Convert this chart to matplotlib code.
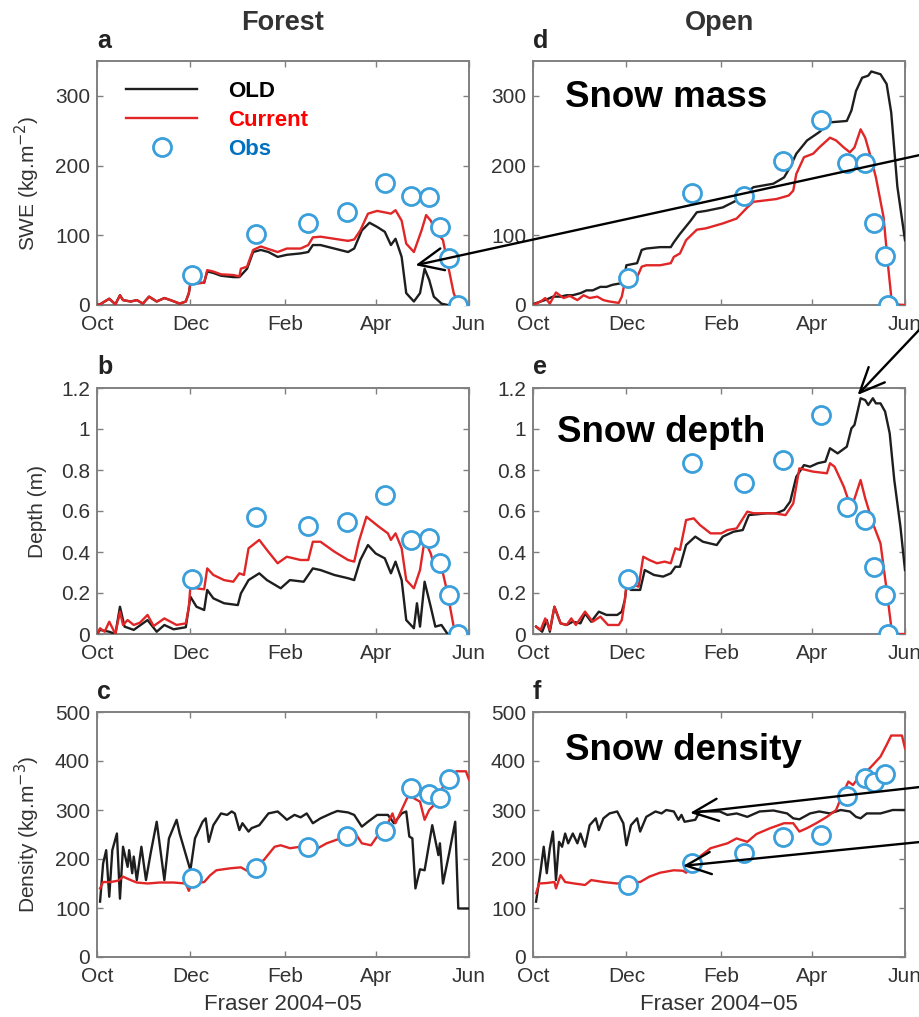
import matplotlib
matplotlib.use("Agg")
import matplotlib.pyplot as plt
from matplotlib.text import Annotation

plt.rcParams["font.family"] = ["Liberation Sans", "DejaVu Sans"]

# x axis: days since 1 Oct 2004
month_ticks = [0, 61, 123, 182, 243]
month_labels = ["Oct", "Dec", "Feb", "Apr", "Jun"]

forest_obs_day = [62, 104, 138, 163, 188, 205, 217, 224, 230, 236]
open_obs_day = [62, 104, 138, 163, 188, 205, 217, 223, 230, 232]

# a: forest SWE
a_old_day = [0, 2, 5, 8, 12, 15, 17, 22, 26, 30, 34, 39, 44, 48, 54, 58, 60, 61, 64, 70,
             72, 76, 81, 89, 93, 98, 102, 107, 112, 118, 124, 133, 138, 141, 146, 155, 164,
             168, 173, 178, 183, 188, 192, 195, 199, 202, 207, 211, 214, 217, 220, 225, 229, 243]
a_old = [0, 1, 5, 9, 1, 14, 7, 5, 7, 2, 12, 5, 10, 7, 2, 5, 17, 31, 31, 32,
         48, 46, 42, 40, 40, 52, 76, 79, 76, 69, 72, 74, 76, 86, 86, 81, 76,
         81, 107, 118, 112, 105, 86, 95, 69, 17, 5, 17, 52, 36, 12, 2, 0, 0]
a_cur_day = [0, 2, 5, 8, 12, 15, 17, 22, 26, 30, 34, 39, 44, 48, 54, 58, 60, 61, 64, 70,
             72, 76, 81, 89, 93, 94, 98, 102, 107, 111, 118, 124, 133, 138, 141, 146, 155,
             164, 168, 172, 177, 183, 190, 192, 195, 199, 202, 207, 212, 215, 218, 221, 226,
             229, 233, 236, 243]
a_cur = [0, 1, 5, 9, 1, 14, 7, 5, 7, 2, 12, 5, 10, 7, 2, 5, 17, 31, 31, 32,
         50, 48, 44, 43, 41, 52, 55, 79, 84, 81, 76, 81, 81, 86, 97, 98, 95,
         92, 94, 107, 131, 135, 132, 131, 136, 121, 88, 76, 107, 129, 121, 107, 93,
         60, 17, 1, 0]
a_obs = [43, 102, 118, 134, 175, 157, 155, 112, 68, 0]

# b: forest depth
b_old_day = [0, 2, 8, 12, 15, 18, 24, 33, 39, 44, 50, 58, 61, 65, 70, 72, 76, 83, 92, 94,
             99, 106, 111, 120, 126, 135, 141, 146, 155, 164, 168, 172, 177, 182, 188, 192,
             195, 199, 202, 207, 209, 211, 214, 218, 221, 225, 229, 243]
b_old = [0, .02, .011, 0, .133, .036, .02, .068, .011, .044, .023, .033, .182, .133, .117,
         .215, .174, .15, .141, .198, .263, .296, .263, .223, .263, .255, .32, .312, .288,
         .272, .263, .361, .434, .393, .369, .296, .353, .263, .068, .028, .15, .036, .255,
         .133, .036, .044, 0, 0]
b_cur_day = [0, 2, 5, 8, 12, 15, 17, 20, 24, 28, 33, 37, 44, 48, 52, 58, 60, 61, 65, 70,
             72, 76, 83, 89, 93, 96, 99, 106, 111, 118, 124, 133, 138, 141, 146, 155, 164,
             168, 171, 176, 180, 184, 190, 192, 195, 199, 202, 207, 211, 214, 218, 221, 226,
             229, 233, 236, 243]
b_cur = [0, .028, .011, .06, 0, .109, .044, .068, .044, .055, .093, .039, .076, .06, .044,
         .052, .133, .231, .223, .218, .32, .288, .263, .255, .296, .288, .418, .459, .41,
         .345, .377, .361, .361, .45, .45, .402, .361, .353, .45, .572, .548, .524, .491,
         .459, .491, .418, .263, .223, .312, .459, .393, .312, .296, .198, .036, 0, 0]
b_obs = [.268, .569, .528, .548, .678, .459, .467, .348, .19, 0]

# c: forest density
c_old_day = [2, 4, 6, 8, 10, 13, 15, 17, 20, 21, 23, 24, 26, 29, 32, 35, 39, 44, 47, 52,
             54, 61, 64, 69, 71, 73, 76, 81, 85, 88, 90, 93, 95, 99, 101, 106, 112, 118,
             122, 124, 129, 133, 137, 141, 146, 153, 157, 164, 168, 173, 177, 183, 190, 194,
             199, 202, 204, 206, 208, 211, 214, 219, 223, 224, 226, 230, 234, 236, 243]
c_old = [113, 191, 218, 123, 218, 252, 119, 225, 184, 218, 171, 205, 157, 225, 157, 211,
         276, 157, 242, 280, 252, 177, 242, 276, 283, 235, 269, 293, 290, 297, 293, 259,
         273, 256, 263, 269, 293, 297, 286, 280, 290, 285, 293, 273, 283, 293, 298, 295,
         290, 266, 276, 290, 290, 273, 293, 297, 246, 242, 140, 179, 177, 269, 208, 232,
         150, 211, 276, 99, 99]
c_cur_day = [2, 4, 9, 14, 17, 22, 26, 33, 41, 50, 58, 60, 62, 70, 74, 78, 87, 94, 98, 102,
             109, 116, 120, 126, 133, 142, 150, 159, 168, 173, 179, 183, 188, 191, 193, 195,
             200, 204, 207, 211, 214, 217, 220, 225, 230, 235, 241, 243]
c_cur = [140, 153, 153, 156, 164, 157, 152, 150, 152, 152, 150, 135, 150, 153, 167, 177,
         181, 183, 176, 184, 198, 225, 228, 222, 225, 218, 232, 242, 256, 232, 228, 246,
         256, 280, 293, 273, 307, 334, 324, 317, 280, 300, 310, 341, 372, 379, 379, 362]
c_obs = [162, 181, 224, 247, 258, 344, 332, 324, 363]

# d: open SWE
d_old_day = [1, 5, 9, 13, 18, 22, 26, 31, 35, 39, 44, 48, 52, 57, 60, 61, 68, 71, 74, 83,
             90, 92, 96, 103, 107, 113, 124, 133, 140, 144, 157, 164, 168, 172, 179, 187,
             194, 205, 208, 211, 215, 219, 221, 227, 231, 234, 238, 243]
d_old = [2, 5, 8, 12, 12, 14, 14, 17, 21, 21, 26, 26, 29, 31, 45, 57, 60, 79, 81, 83,
         83, 90, 102, 121, 133, 135, 140, 150, 162, 169, 174, 183, 198, 217, 236, 248,
         262, 264, 279, 307, 326, 329, 335, 331, 317, 276, 170, 93]
d_cur_day = [1, 5, 8, 11, 15, 20, 24, 29, 33, 37, 42, 46, 50, 56, 58, 60, 63, 68, 71, 74,
             83, 90, 92, 96, 100, 107, 113, 124, 133, 140, 144, 159, 167, 170, 172, 177,
             183, 187, 194, 198, 203, 207, 210, 214, 217, 220, 224, 229, 232, 234, 236, 243]
d_cur = [1, 5, 10, 2, 18, 10, 13, 7, 14, 10, 12, 7, 5, 3, 12, 33, 40, 40, 55, 57,
         57, 60, 69, 74, 93, 108, 110, 117, 124, 140, 148, 152, 157, 164, 188, 212,
         217, 226, 240, 236, 226, 219, 226, 252, 240, 217, 183, 126, 55, 12, 1, 0]
d_obs = [39, 161, 156, 206, 265, 204, 204, 118, 70, 0]

# e: open depth
e_old_day = [2, 6, 9, 11, 14, 18, 22, 26, 31, 34, 38, 43, 48, 55, 58, 60, 61, 64, 70, 73,
             79, 85, 90, 93, 96, 100, 106, 111, 120, 124, 131, 137, 141, 153, 159, 164, 168,
             172, 177, 181, 186, 191, 194, 199, 205, 208, 210, 214, 217, 219, 222, 224, 227,
             230, 233, 236, 240, 243]
e_old = [.036, .011, .068, .011, .133, .052, .044, .06, .052, .1, .06, .109, .093, .093,
         .109, .166, .231, .215, .215, .312, .288, .28, .296, .328, .328, .434, .475, .45,
         .434, .475, .499, .507, .58, .589, .589, .605, .646, .767, .824, .816, .833, .841,
         .906, .881, .914, 1.003, 1.02, 1.15, 1.141, 1.117, 1.15, 1.125, 1.125, 1.085,
         .979, .751, .524, .312]
e_cur_day = [2, 5, 8, 11, 14, 18, 22, 25, 28, 34, 39, 44, 49, 56, 58, 60, 61, 66, 69, 72,
             76, 81, 86, 90, 93, 96, 100, 105, 109, 116, 123, 127, 133, 140, 144, 157, 165,
             170, 174, 183, 192, 194, 197, 203, 206, 209, 214, 217, 222, 227, 231, 234, 236,
             243]
e_cur = [.036, .02, .076, .02, .133, .052, .044, .076, .044, .109, .06, .085, .044, .044,
         .068, .166, .231, .239, .231, .377, .361, .345, .353, .345, .418, .41, .556, .564,
         .532, .491, .491, .507, .515, .597, .589, .589, .58, .637, .808, .792, .784, .833,
         .816, .719, .654, .637, .751, .662, .54, .442, .215, .036, 0, 0]
e_obs = [.268, .836, .738, .849, 1.068, .618, .556, .328, .19, 0]

# f: open density
f_old_day = [2, 5, 7, 9, 11, 13, 15, 17, 19, 21, 23, 26, 29, 31, 34, 37, 41, 43, 46, 50,
             55, 59, 61, 64, 68, 70, 74, 80, 84, 87, 92, 95, 97, 99, 106, 109, 122, 127,
             133, 140, 148, 157, 166, 170, 174, 181, 187, 194, 201, 207, 211, 214, 218, 227,
             235, 243]
f_old = [113, 177, 225, 171, 222, 256, 157, 235, 225, 252, 232, 252, 232, 252, 225, 269,
         283, 259, 283, 293, 297, 273, 228, 269, 283, 256, 286, 297, 293, 300, 297, 280,
         290, 276, 280, 297, 297, 290, 293, 286, 297, 299, 293, 283, 281, 293, 297, 293,
         300, 297, 286, 283, 293, 293, 300, 300]
f_cur_day = [2, 4, 9, 14, 15, 18, 21, 27, 34, 38, 46, 55, 63, 70, 76, 83, 92, 98, 100, 109,
             116, 127, 133, 140, 146, 155, 164, 170, 174, 179, 185, 192, 198, 202, 206, 209,
             214, 218, 222, 227, 231, 234, 241, 243]
f_cur = [130, 150, 151, 153, 140, 167, 153, 150, 147, 157, 153, 150, 153, 153, 164, 172,
         177, 176, 172, 205, 222, 232, 242, 235, 251, 263, 273, 273, 256, 263, 273, 286,
         300, 331, 358, 351, 372, 379, 392, 409, 433, 452, 452, 426]
f_obs = [147, 192, 213, 244, 249, 329, 365, 358, 374]

swe_ticks = [0, 100, 200, 300]
depth_ticks = [0, 0.2, 0.4, 0.6, 0.8, 1.0, 1.2]
depth_labels = ["0", "0.2", "0.4", "0.6", "0.8", "1", "1.2"]
dens_ticks = [0, 100, 200, 300, 400, 500]

OLD_C = "#1e1e1e"
CUR_C = "#e02626"
OBS_C = "#3a9fdb"
FRAME_C = "#808080"
TEXT_C = "#333333"

W, H = 920, 1017
fig = plt.figure(figsize=(W / 100, H / 100), dpi=100)
fig.patch.set_facecolor("white")

col_left = [97, 533]
ax_w = 372
row_px = [(61, 305), (388, 634), (712, 957)]


def make_ax(col, row):
    top, bot = row_px[row]
    ax = fig.add_axes([col_left[col] / W, 1 - bot / H, ax_w / W, (bot - top) / H])
    ax.set_facecolor("none")
    for s in ax.spines.values():
        s.set_color(FRAME_C)
        s.set_linewidth(1.4)
    ax.tick_params(direction="in", length=4, width=1, colors=FRAME_C,
                   labelcolor=TEXT_C, labelsize=15, top=True, right=True)
    ax.tick_params(axis="x", pad=7)
    ax.tick_params(axis="y", pad=5)
    ax.set_xlim(0, 243)
    ax.set_xticks(month_ticks)
    ax.set_xticklabels(month_labels)
    return ax


def draw(ax, old_day, old, cur_day, cur, obs_day, obs):
    ax.plot(old_day, old, color=OLD_C, lw=1.7, label="OLD", zorder=3)
    ax.plot(cur_day, cur, color=CUR_C, lw=1.7, label="Current", zorder=3)
    ax.plot(obs_day[:len(obs)], obs, "o", ms=13, mfc="white", mec=OBS_C, mew=2,
            label="Obs", zorder=4)


panels = {}
for col, letter_set in enumerate(["abc", "def"]):
    for row, letter in enumerate(letter_set):
        panels[letter] = make_ax(col, row)

draw(panels["a"], a_old_day, a_old, a_cur_day, a_cur, forest_obs_day, a_obs)
draw(panels["b"], b_old_day, b_old, b_cur_day, b_cur, forest_obs_day, b_obs)
draw(panels["c"], c_old_day, c_old, c_cur_day, c_cur, forest_obs_day, c_obs)
draw(panels["d"], d_old_day, d_old, d_cur_day, d_cur, open_obs_day, d_obs)
draw(panels["e"], e_old_day, e_old, e_cur_day, e_cur, open_obs_day, e_obs)
draw(panels["f"], f_old_day, f_old, f_cur_day, f_cur, open_obs_day, f_obs)

for k in "ad":
    panels[k].set_ylim(0, 350)
    panels[k].set_yticks(swe_ticks)
for k in "be":
    panels[k].set_ylim(0, 1.2)
    panels[k].set_yticks(depth_ticks)
    panels[k].set_yticklabels(depth_labels)
for k in "cf":
    panels[k].set_ylim(0, 500)
    panels[k].set_yticks(dens_ticks)

lab_kw = dict(fontsize=15, color=TEXT_C)
panels["a"].set_ylabel("SWE (kg.m$^{-2}$)", **lab_kw)
panels["a"].yaxis.set_label_coords(-0.148, 0.5)
panels["b"].set_ylabel("Depth (m)", **lab_kw)
panels["b"].yaxis.set_label_coords(-0.135, 0.5)
panels["c"].set_ylabel("Density (kg.m$^{-3}$)", **lab_kw)
panels["c"].yaxis.set_label_coords(-0.148, 0.5)
for k in "cf":
    panels[k].set_xlabel("Fraser 2004\u221205", fontsize=16, color=TEXT_C, labelpad=6)

panels["a"].set_title("Forest", fontsize=19.5, fontweight="bold", color=TEXT_C, pad=22)
panels["d"].set_title("Open", fontsize=19.5, fontweight="bold", color=TEXT_C, pad=22)

for k, ax in panels.items():
    ax.text(0.0, 1.055, k, transform=ax.transAxes, ha="left", va="baseline",
            fontsize=18, fontweight="bold", color="#222222")

big_kw = dict(fontsize=26.5, fontweight="bold", color="black", va="baseline", ha="left", zorder=5)
panels["d"].text(0.086, 0.811, "Snow mass", transform=panels["d"].transAxes, **big_kw)
panels["e"].text(0.0645, 0.78, "Snow depth", transform=panels["e"].transAxes, **big_kw)
panels["f"].text(0.086, 0.804, "Snow density", transform=panels["f"].transAxes, **big_kw)

leg = panels["a"].legend(loc="upper left", bbox_to_anchor=(0.078, 0.92), frameon=False,
                         fontsize=16, handlelength=3.2, handletextpad=1.4,
                         labelspacing=0.36, borderpad=0, borderaxespad=0, numpoints=1)
for txt, c in zip(leg.get_texts(), ["black", "#ff0000", "#0070c0"]):
    txt.set_color(c)
    txt.set_fontweight("bold")

# arrows pointing at the curves, drawn over all panels
arrow_kw = dict(arrowstyle="->,head_length=0.9,head_width=0.4", lw=1.7, color="black",
                shrinkA=0, shrinkB=0, mutation_scale=20)
arrows = [
    ("a", (208, 57), (1.0, 1 - 155 / H)),
    ("e", (212, 1.166), (1.0, 1 - 329 / H)),
    ("f", (102.6, 294), (1.0, 1 - 787 / H)),
    ("f", (98, 186), (1.0, 1 - 842 / H)),
]
for k, tip, tail in arrows:
    an = Annotation("", xy=tip, xycoords=panels[k].transData, xytext=tail,
                    textcoords=fig.transFigure, arrowprops=arrow_kw)
    an.set_zorder(10)
    fig.add_artist(an)

fig.savefig("out.png", dpi=100, facecolor="white")
